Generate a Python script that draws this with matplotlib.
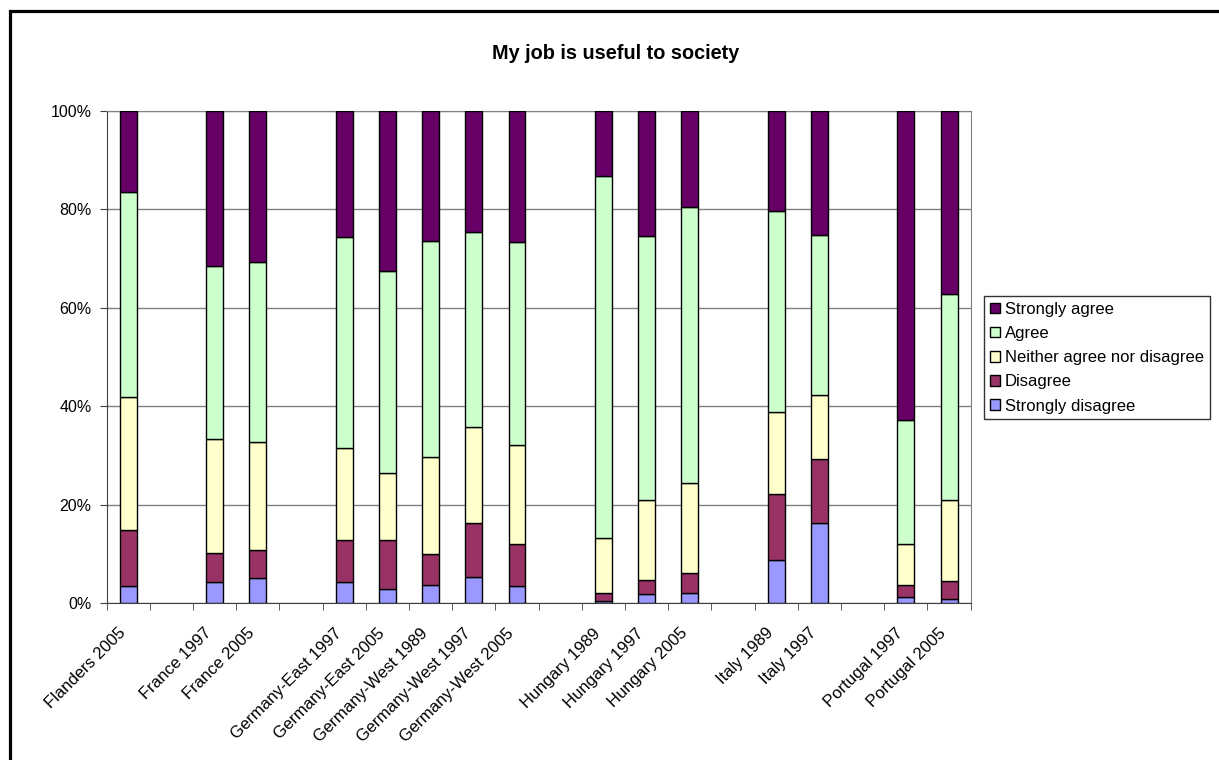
import numpy as np
import matplotlib.pyplot as plt
from matplotlib.patches import Rectangle
from matplotlib.ticker import FuncFormatter
import matplotlib.transforms as mtransforms

plt.rcParams["font.family"] = ["Liberation Sans", "DejaVu Sans"]
plt.rcParams["font.size"] = 11.5

# Categories, grouped by country (one empty slot between groups)
categories = ["Flanders 2005",
              "France 1997", "France 2005",
              "Germany-East 1997", "Germany-East 2005", "Germany-West 1989",
              "Germany-West 1997", "Germany-West 2005",
              "Hungary 1989", "Hungary 1997", "Hungary 2005",
              "Italy 1989", "Italy 1997",
              "Portugal 1997", "Portugal 2005"]
groups = [0, 1, 1, 2, 2, 2, 2, 2, 3, 3, 3, 4, 4, 5, 5]

# Answer shares (%)
strongly_disagree = [3.5, 4.3, 5.1, 4.3, 3.0, 3.7, 5.3, 3.6, 0.5, 1.8, 2.0, 8.7, 16.3, 1.2, 0.9]
disagree = [11.3, 5.9, 5.7, 8.5, 9.8, 6.3, 11.0, 8.5, 1.6, 2.9, 4.2, 13.4, 13.0, 2.5, 3.6]
neither = [27.1, 23.2, 21.9, 18.8, 13.7, 19.7, 19.5, 20.1, 11.2, 16.2, 18.3, 16.7, 13.1, 8.3, 16.5]
agree = [41.7, 35.2, 36.6, 42.9, 41.0, 43.9, 39.6, 41.1, 73.5, 53.8, 56.0, 40.9, 32.4, 25.3, 41.9]
strongly_agree = [16.4, 31.4, 30.7, 25.5, 32.5, 26.4, 24.6, 26.7, 13.2, 25.3, 19.5, 20.3, 25.2, 62.7, 37.1]

series = [("Strongly disagree", strongly_disagree, "#9999FF"),
          ("Disagree", disagree, "#993366"),
          ("Neither agree nor disagree", neither, "#FFFFCC"),
          ("Agree", agree, "#CCFFCC"),
          ("Strongly agree", strongly_agree, "#660066")]

x = np.arange(len(categories)) + np.array(groups)
n_slots = int(x.max()) + 1

fig = plt.figure(figsize=(12.19, 7.6), dpi=100)
ax = fig.add_axes([0.0875, 0.2062, 0.7088, 0.6478])

bottom = np.zeros(len(categories))
handles = []
for name, values, color in series:
    b = ax.bar(x, values, 0.39, bottom=bottom, color=color,
               edgecolor="black", linewidth=1, label=name, zorder=3)
    handles.append(b)
    bottom += np.array(values)

ax.set_xlim(-0.5, n_slots - 0.5)
ax.set_ylim(0, 100)
ax.set_yticks(np.arange(0, 101, 20))
ax.yaxis.set_major_formatter(FuncFormatter(lambda v, p: f"{v:.0f}%"))
ax.yaxis.grid(True, color="#808080", linewidth=1, zorder=0)

ax.set_xticks(x)
ax.set_xticklabels(categories, rotation=45, ha="right", fontsize=12)
ax.set_xticks(np.arange(n_slots + 1) - 0.5, minor=True)
ax.tick_params(axis="x", which="major", length=0, pad=16)
ax.tick_params(axis="x", which="minor", length=5, color="#404040", direction="out")
ax.tick_params(axis="y", length=5, color="#404040", direction="out", pad=6)

offset = mtransforms.ScaledTranslation(0, 0, fig.dpi_scale_trans)
for label in ax.get_xticklabels():
    label.set_transform(label.get_transform() + offset)

for side in ["left", "bottom"]:
    ax.spines[side].set_color("#404040")
for side in ["top", "right"]:
    ax.spines[side].set_color("#808080")

fig.text(0.5053, 0.930, "My job is useful to society", ha="center", va="center",
         fontweight="bold", fontsize=14.3)

leg = fig.legend(handles[::-1], [s[0] for s in series][::-1],
                 loc="upper left", bbox_to_anchor=(0.8072, 0.6105),
                 frameon=True, fancybox=False, borderaxespad=0,
                 handlelength=0.6, handleheight=0.6, handletextpad=0.3,
                 labelspacing=0.55, borderpad=0.35, fontsize=12)
leg.get_frame().set_edgecolor("black")
leg.get_frame().set_linewidth(1)

# outer chart border (runs off the right and bottom edges)
fig.patches.append(Rectangle((0.0078, -0.1), 1.2, 1.0849, transform=fig.transFigure,
                             fill=False, edgecolor="black", linewidth=2.3))

fig.savefig("out.png", dpi=100)
